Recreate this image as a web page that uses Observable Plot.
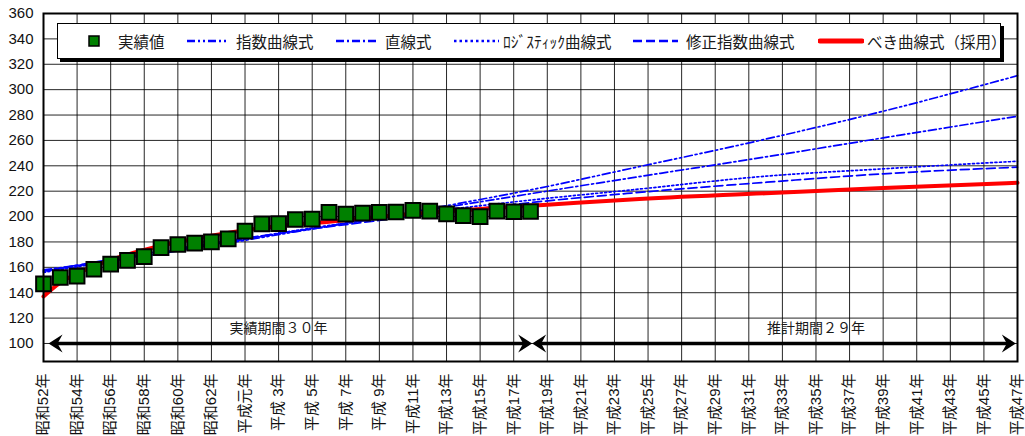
<!DOCTYPE html>
<html>
<head>
<meta charset="utf-8">
<script src="https://cdn.jsdelivr.net/npm/d3@7"></script>
<script src="https://cdn.jsdelivr.net/npm/@observablehq/plot@0.6"></script>
<style>
  body { margin: 0; background: #fff; }
  #chart { position: relative; width: 1025px; height: 436px; }
  .legend {
    position: absolute; left: 57px; top: 23px; width: 944px; height: 36px;
    box-sizing: border-box; background: #fff; border: 1px solid #000;
    box-shadow: 3px 3px 0 #000;
    font-family: "Noto Sans CJK JP", sans-serif; font-size: 15.5px; color: #1a1a1a;
  }
  .legend .sw, .legend .lb { position: absolute; top: 0; height: 100%; display: flex; align-items: center; white-space: nowrap; }
</style>
</head>
<body>
<div id="chart"></div>
<script>
// 実績値（昭和52年〜平成18年）
const actualYears = [1977, 1978, 1979, 1980, 1981, 1982, 1983, 1984, 1985, 1986,
                     1987, 1988, 1989, 1990, 1991, 1992, 1993, 1994, 1995, 1996,
                     1997, 1998, 1999, 2000, 2001, 2002, 2003, 2004, 2005, 2006];
const actualValues = [147, 152, 153, 158.5, 162.5, 165.5, 168.5, 175.5, 178, 179,
                      180, 182.5, 188.5, 194.3, 194.5, 197.7, 198, 203.3, 202, 202.7,
                      203.3, 203.6, 204.9, 204.3, 202.2, 200.8, 200, 204.3, 203.8, 204];

// 推計式（各曲線の読み取り値）
const trendYears        = [1977, 1982, 1987, 1992, 1997, 2002, 2006, 2012, 2020, 2027, 2035];
const expValues         = [158, 167, 177, 188, 199, 211, 221, 238, 261, 283, 311];
const linearValues      = [157, 167.5, 178, 188.5, 199, 209.5, 218, 230.5, 247, 262, 279];
const logisticValues    = [156, 167, 178, 189, 198.5, 207, 213, 221, 231.8, 237.6, 243.6];
const modExpValues      = [157, 168.5, 179, 188.5, 197, 205, 211, 218.5, 227, 233.7, 238.9];

// べき曲線式（採用）
const powerYears  = [1977, 1978, 1979, 1980, 1982, 1984, 1987, 1990, 1994, 1998, 2003, 2007, 2012, 2020, 2027, 2035];
const powerValues = [137, 148, 155, 161, 170, 177, 185, 191, 196, 201, 206, 209.3, 213.5, 218.4, 222.6, 226.6];

// 軸目盛
const tickYears = [1977, 1979, 1981, 1983, 1985, 1987, 1989, 1991, 1993, 1995,
                   1997, 1999, 2001, 2003, 2005, 2007, 2009, 2011, 2013, 2015,
                   2017, 2019, 2021, 2023, 2025, 2027, 2029, 2031, 2033, 2035];
const tickLabels = ["昭和52年", "昭和54年", "昭和56年", "昭和58年", "昭和60年", "昭和62年",
                    "平成元年", "平成 3年", "平成 5年", "平成 7年", "平成 9年", "平成11年",
                    "平成13年", "平成15年", "平成17年", "平成19年", "平成21年", "平成23年",
                    "平成25年", "平成27年", "平成29年", "平成31年", "平成33年", "平成35年",
                    "平成37年", "平成39年", "平成41年", "平成43年", "平成45年", "平成47年"];
const yTicks = [100, 120, 140, 160, 180, 200, 220, 240, 260, 280, 300, 320, 340, 360];

// 凡例
const seriesNames = ["実績値", "指数曲線式", "直線式", "ﾛｼﾞｽﾃｨｯｸ曲線式", "修正指数曲線式", "べき曲線式（採用）"];

// 期間表示
const periodLabels = ["実績期間３０年", "推計期間２９年"];
const periodLabelYears = [1991, 2023];
const periodStart = [1977.3, 2006.1];
const periodEnd = [2006.1, 2034.9];
const periodLevel = 100;

const rows = (xs, ys) => xs.map((year, i) => ({year, value: ys[i]}));
const labelByYear = new Map(tickYears.map((y, i) => [y, tickLabels[i]]));

const blue = "#0000ff";
const trendStyles = [
  {values: expValues, dash: "8,3,2,3,2,3"},
  {values: linearValues, dash: "8,3,2,3"},
  {values: logisticValues, dash: "2,2.5"},
  {values: modExpValues, dash: "9,4"}
];

const chart = Plot.plot({
  width: 1025,
  height: 436,
  marginLeft: 43,
  marginRight: 8,
  marginTop: 13,
  marginBottom: 75,
  x: {type: "linear", domain: [1977, 2035]},
  y: {domain: [85.8, 360]},
  style: {
    fontFamily: '"Liberation Sans", "Noto Sans CJK JP", sans-serif',
    fontSize: "15px",
    color: "#111",
    background: "#fff"
  },
  marks: [
    Plot.ruleX(tickYears, {stroke: "#000", strokeWidth: 1, strokeOpacity: 0.85}),
    Plot.ruleY(yTicks, {stroke: "#000", strokeWidth: 1, strokeOpacity: 0.85}),
    ...trendStyles.map(t => Plot.line(rows(trendYears, t.values), {
      x: "year", y: "value", stroke: blue, strokeWidth: 1.7,
      strokeDasharray: t.dash, curve: "monotone-x"
    })),
    Plot.line(rows(powerYears, powerValues), {
      x: "year", y: "value", stroke: "#ff0000", strokeWidth: 4, curve: "monotone-x"
    }),
    Plot.dot(rows(actualYears, actualValues), {
      x: "year", y: "value", symbol: "square", r: 8.3,
      fill: "#008000", stroke: "#000", strokeWidth: 2
    }),
    Plot.text(periodLabels.map((label, i) => ({label, year: periodLabelYears[i], value: 111.5})), {
      x: "year", y: "value", text: "label", fontSize: 14,
      fontFamily: '"Noto Sans CJK JP", sans-serif', fill: "#1a1a1a"
    }),
    Plot.link(periodStart.map((s, i) => ({from: s, to: periodEnd[i], level: periodLevel})), {
      x1: "from", x2: "to", y1: "level", y2: "level", stroke: "#000", strokeWidth: 3.5
    }),
    Plot.axisY(yTicks, {tickSize: 0, tickPadding: 10, fontSize: 15, label: null}),
    Plot.axisX(tickYears, {
      tickSize: 0, tickPadding: 12, tickRotate: -90, fontSize: 15, label: null,
      tickFormat: d => labelByYear.get(d)
    }),
    Plot.frame({stroke: "#000", strokeWidth: 2})
  ]
});

const container = document.getElementById("chart");
container.appendChild(chart);

// 期間ラベルの白抜き背景
const svg = d3.select(chart);
svg.selectAll('g[aria-label="text"] text').each(function () {
  const b = this.getBBox();
  d3.select(this.parentNode).insert("rect", ":first-child")
    .attr("x", b.x - 15).attr("y", b.y - 2)
    .attr("width", b.width + 30).attr("height", b.height + 4)
    .attr("fill", "#fff");
});

// 期間矢印の矢じり
const marker = svg.insert("defs", ":first-child").append("marker")
  .attr("id", "stealth").attr("viewBox", "-15 -10 16 20")
  .attr("markerWidth", 16).attr("markerHeight", 20)
  .attr("markerUnits", "userSpaceOnUse").attr("orient", "auto-start-reverse")
  .attr("refX", 0).attr("refY", 0);
marker.append("path").attr("d", "M0,0L-14,-9L-9,0L-14,9Z").attr("fill", "#000");
svg.selectAll('g[aria-label="link"] path').each(function () {
  const len = this.getTotalLength();
  const inset = 5;
  d3.select(this)
    .attr("stroke-dasharray", `0 ${inset} ${len - 2 * inset} ${inset}`)
    .attr("marker-start", "url(#stealth)")
    .attr("marker-end", "url(#stealth)");
});

// 凡例
const legend = d3.select(container).append("div").attr("class", "legend");
const swatch = (left, width, draw) => {
  const s = legend.append("div").attr("class", "sw").style("left", left + "px")
    .append("svg").attr("width", width).attr("height", 12);
  draw(s);
};
const lineSwatch = (dash, color, w) => s => s.append("line")
  .attr("x1", 0).attr("x2", +s.attr("width")).attr("y1", 6).attr("y2", 6)
  .attr("stroke", color).attr("stroke-width", w).attr("stroke-dasharray", dash);

swatch(30, 12, s => s.append("rect").attr("x", 1).attr("y", 1).attr("width", 10).attr("height", 10)
  .attr("fill", "#008000").attr("stroke", "#000").attr("stroke-width", 1.5));
swatch(129, 42, lineSwatch("8,3,2,3,2,3", blue, 2.5));
swatch(278, 43, lineSwatch("8,3,2,3", blue, 2.5));
swatch(396, 45, lineSwatch("2.5,3", blue, 2.5));
swatch(575, 45, lineSwatch("9,4", blue, 2.5));
swatch(760, 46, s => s.append("line").attr("x1", 2).attr("x2", 44).attr("y1", 6).attr("y2", 6)
  .attr("stroke", "#ff0000").attr("stroke-width", 5).attr("stroke-linecap", "round"));

const labelLefts = [60, 178, 327, 445, 628, 809];
seriesNames.forEach((name, i) => {
  legend.append("div").attr("class", "lb").style("left", labelLefts[i] + "px").text(name);
});
</script>
</body>
</html>
